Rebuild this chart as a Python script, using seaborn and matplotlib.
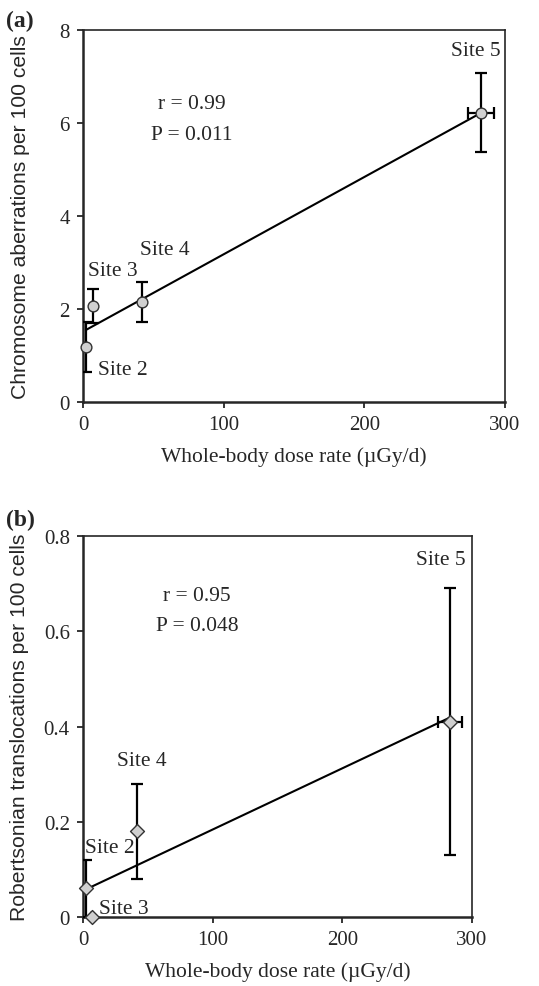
import numpy as np
import pandas as pd
import seaborn as sns
import matplotlib
matplotlib.use("Agg")
from matplotlib import pyplot as plt

# ---- data ----
sites = ["Site 2", "Site 3", "Site 4", "Site 5"]
dose = [2, 7, 42, 283]
dose_err = [0, 0, 0, 9]

aberr = [1.18, 2.06, 2.15, 6.22]
aberr_err = [0.53, 0.36, 0.42, 0.85]

robert = [0.06, 0.0, 0.18, 0.41]
robert_err = [0.06, 0.0, 0.10, 0.28]

stats_a = ["r = 0.99", "P = 0.011"]
stats_b = ["r = 0.95", "P = 0.048"]

# label positions (data coords) for the site names
lab_a = {"Site 2": (11, 0.69, "left"), "Site 3": (21, 2.82, "center"),
         "Site 4": (58, 3.27, "center"), "Site 5": (279, 7.55, "center")}
lab_b = {"Site 2": (21, 0.145, "center"), "Site 3": (12, 0.017, "left"),
         "Site 4": (45, 0.328, "center"), "Site 5": (276, 0.75, "center")}

sns.set_style("ticks")
plt.rcParams["font.family"] = ["Liberation Serif", "DejaVu Serif"]

fig = plt.figure(figsize=(5.39, 9.87), dpi=100)
ax1 = fig.add_axes([0.154, 0.5917, 0.937 - 0.154, 0.9686 - 0.5917])
ax2 = fig.add_axes([0.154, 0.0699, 0.8757 - 0.154, 0.4559 - 0.0699])


def panel(ax, y, yerr, marker, ms, labels, stats, ylim, yticks, ytl, ylabel,
          txt_x, txt_y, ylab_x, xlab_y):
    df = pd.DataFrame({"dose": dose, "val": y, "site": sites})
    sns.regplot(data=df, x="dose", y="val", ax=ax, scatter=False, ci=None,
                truncate=True, line_kws=dict(color="black", lw=1.5))
    ax.errorbar(dose, y, yerr=yerr, xerr=dose_err, fmt="none", ecolor="black",
                elinewidth=1.6, capsize=4, capthick=1.6, zorder=3)
    sns.scatterplot(data=df, x="dose", y="val", ax=ax, marker=marker, s=ms,
                    color="#d0d0d0", edgecolor="#333333", linewidth=1.0,
                    zorder=4, clip_on=False, legend=False)
    for s in sites:
        lx, ly, ha = labels[s]
        ax.text(lx, ly, s, ha=ha, va="center", fontsize=15.5)
    ax.text(txt_x, txt_y[0], stats[0], ha="center", va="center", fontsize=15.5)
    ax.text(txt_x, txt_y[1], stats[1], ha="center", va="center", fontsize=15.5)
    ax.set_xlim(0, 300)
    ax.set_ylim(*ylim)
    ax.set_xticks([0, 100, 200, 300])
    ax.set_yticks(yticks)
    ax.set_yticklabels(ytl)
    ax.tick_params(axis="both", labelsize=15, direction="out", length=4.5,
                   width=1.3, pad=5, top=False, right=False)
    ax.set_xlabel("Whole-body dose rate (µGy/d)", fontsize=15.5, va="center")
    ax.xaxis.set_label_coords(0.5, xlab_y)
    ax.set_ylabel(ylabel, fontsize=15.2, family=["Liberation Sans", "DejaVu Sans"],
                  va="center")
    ax.yaxis.set_label_coords(ylab_x, 0.5)
    for side in ["left", "bottom"]:
        ax.spines[side].set_linewidth(1.8)
    for side in ["right", "top"]:
        ax.spines[side].set_visible(True)
        ax.spines[side].set_linewidth(1.2)


panel(ax1, aberr, aberr_err, "o", 60, lab_a, stats_a, (0, 8), [0, 2, 4, 6, 8],
      ["0", "2", "4", "6", "8"], "Chromosome aberrations per 100 cells",
      77, (6.41, 5.76), -0.149, -0.145)
panel(ax2, robert, robert_err, "D", 50, lab_b, stats_b, (0, 0.8),
      [0, 0.2, 0.4, 0.6, 0.8], ["0", "0.2", "0.4", "0.6", "0.8"],
      "Robertsonian translocations per 100 cells",
      88, (0.675, 0.613), -0.162, -0.142)

fig.text(0.012, 0.978, "(a)", fontsize=17, fontweight="bold", va="center")
fig.text(0.012, 0.473, "(b)", fontsize=17, fontweight="bold", va="center")

fig.savefig("out.png", dpi=100)
